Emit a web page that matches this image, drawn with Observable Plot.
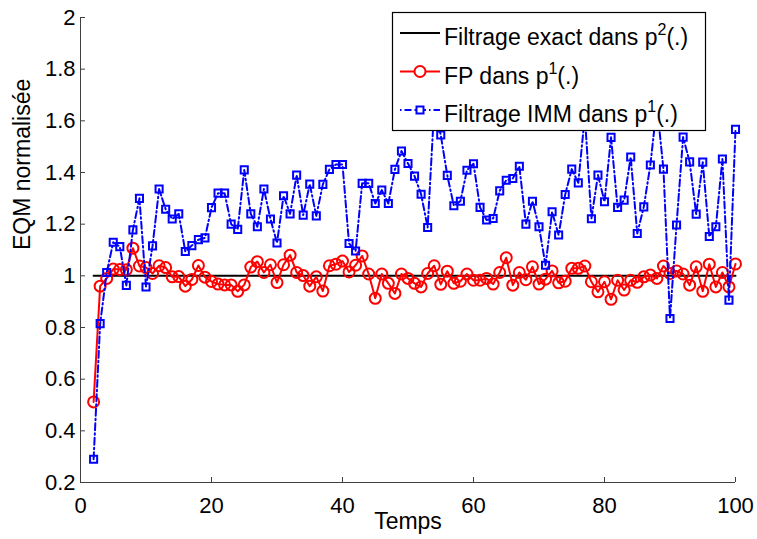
<!DOCTYPE html>
<html><head><meta charset="utf-8">
<script src="https://cdn.jsdelivr.net/npm/d3@7"></script>
<script src="https://cdn.jsdelivr.net/npm/@observablehq/plot@0.6"></script>
<style>body{margin:0;background:#fff} svg{display:block}</style>
</head><body><div id="chart"></div>
<script>
const temps = [2,3,4,5,6,7,8,9,10,11,12,13,14,15,16,17,18,19,20,21,22,23,24,25,26,27,28,29,30,31,32,33,34,35,36,37,38,39,40,41,42,43,44,45,46,47,48,49,50,51,52,53,54,55,56,57,58,59,60,61,62,63,64,65,66,67,68,69,70,71,72,73,74,75,76,77,78,79,80,81,82,83,84,85,86,87,88,89,90,91,92,93,94,95,96,97,98,99,100];

const fpValues = [0.512,0.96,0.99,1.026,1.025,1.024,1.107,1.038,1.032,1.009,1.039,1.032,0.996,0.997,0.96,0.986,1.04,0.995,0.978,0.968,0.965,0.965,0.94,0.965,1.034,1.055,1.013,1.043,0.974,1.043,1.08,1.013,1.001,0.96,0.996,0.941,1.039,1.045,1.057,1.015,1.041,1.077,1.007,0.913,1.007,0.971,0.932,1.007,0.99,0.971,0.957,1.009,1.039,0.967,1.018,0.971,0.979,1.007,0.983,0.983,0.99,0.968,1.013,1.07,0.964,1.013,0.985,1.035,0.968,0.987,1.019,0.973,0.979,1.029,1.029,1.038,0.977,0.938,0.977,0.909,0.983,0.945,0.983,0.975,0.996,1.003,0.99,1.038,1.009,1.019,1.007,0.964,1.035,0.94,1.045,0.957,1.013,0.957,1.046];

const immValues = [0.29,0.815,1.013,1.13,1.113,0.963,1.178,1.30,0.957,1.116,1.336,1.258,1.22,1.24,1.094,1.117,1.14,1.147,1.264,1.32,1.32,1.20,1.18,1.41,1.24,1.19,1.336,1.22,1.127,1.31,1.24,1.39,1.235,1.355,1.232,1.354,1.412,1.431,1.431,1.125,1.096,1.358,1.358,1.28,1.332,1.28,1.412,1.483,1.435,1.386,1.316,1.187,1.65,1.545,1.389,1.271,1.289,1.409,1.434,1.265,1.216,1.222,1.329,1.37,1.377,1.424,1.2,1.289,1.19,1.041,1.248,1.158,1.315,1.413,1.36,1.62,1.221,1.39,1.287,1.536,1.265,1.293,1.46,1.164,1.267,1.429,1.66,1.413,0.835,1.197,1.537,1.441,1.239,1.44,1.152,1.19,1.452,0.906,1.567];

const exactTemps = [2, 100];
const exactValues = [1, 1];

const xTicks = [0, 20, 40, 60, 80, 100];
const yTicks = [0.2, 0.4, 0.6, 0.8, 1, 1.2, 1.4, 1.6, 1.8, 2];

const legendLabels = [
  ["Filtrage exact dans p", "2", "(.)"],
  ["FP dans p", "1", "(.)"],
  ["Filtrage IMM dans p", "1", "(.)"]
];
const xLabel = "Temps";
const yLabel = "EQM normalisée";

const fpData = temps.map((t, i) => ({t, v: fpValues[i]}));
const immData = temps.map((t, i) => ({t, v: immValues[i]}));
const exactData = exactTemps.map((t, i) => ({t, v: exactValues[i]}));

const axisColor = "#404040";
const FONT = "'Liberation Sans', Arial, Helvetica, sans-serif";

const chart = Plot.plot({
  width: 757,
  height: 539,
  marginLeft: 80,
  marginRight: 22,
  marginTop: 17,
  marginBottom: 57,
  style: {fontFamily: FONT, fontSize: "22px", background: "#fff", color: "#000"},
  x: {domain: [0, 100]},
  y: {domain: [0.2, 2]},
  marks: [
    Plot.ruleY([0.2], {stroke: axisColor, strokeWidth: 1}),
    Plot.ruleX([0], {stroke: axisColor, strokeWidth: 1}),
    Plot.axisX({ticks: xTicks, tickSize: 5, dy: -5, text: null, stroke: axisColor, label: null}),
    Plot.axisY({ticks: yTicks, tickSize: 5, dx: 5, text: null, stroke: axisColor, label: null}),
    Plot.axisX({ticks: xTicks, tickSize: 0, tickPadding: 15, tickFormat: d => String(d), label: null, fontSize: 22}),
    Plot.axisY({ticks: yTicks, tickSize: 0, tickPadding: 5, tickFormat: d => String(+d.toFixed(1)), label: null, fontSize: 22}),
    Plot.line(exactData, {x: "t", y: "v", stroke: "#000", strokeWidth: 2}),
    Plot.line(fpData, {x: "t", y: "v", stroke: "#ff0000", strokeWidth: 2}),
    Plot.dot(fpData, {x: "t", y: "v", r: 5.5, stroke: "#ff0000", strokeWidth: 2, fill: "none"}),
    Plot.line(immData, {x: "t", y: "v", stroke: "#0000ff", strokeWidth: 2, strokeDasharray: "7,3,1.5,3"}),
    Plot.dot(immData, {x: "t", y: "v", symbol: "square", r: 4, stroke: "#0000ff", strokeWidth: 2, fill: "none"}),
    Plot.text([xLabel], {frameAnchor: "bottom", dy: 46, fontSize: 23, fill: "#000"}),
    Plot.text([yLabel], {frameAnchor: "left", dx: -58, rotate: -90, fontSize: 23, fill: "#000"})
  ]
});

document.getElementById("chart").appendChild(chart);

// Legend (MATLAB-style box, opaque)
const svg = d3.select(chart);
const lg = svg.append("g").attr("font-family", FONT).attr("font-size", 23).attr("text-anchor", "start");
lg.append("rect").attr("x", 392.5).attr("y", 12.5).attr("width", 313).attr("height", 118)
  .attr("fill", "#fff").attr("stroke", "#000").attr("stroke-width", 1.2);
const rowsY = [33, 71.5, 110];
lg.append("line").attr("x1", 400).attr("x2", 440).attr("y1", rowsY[0]).attr("y2", rowsY[0]).attr("stroke", "#000").attr("stroke-width", 2);
lg.append("line").attr("x1", 400).attr("x2", 440).attr("y1", rowsY[1]).attr("y2", rowsY[1]).attr("stroke", "#ff0000").attr("stroke-width", 2);
lg.append("circle").attr("cx", 420).attr("cy", rowsY[1]).attr("r", 5.5).attr("fill", "#fff").attr("stroke", "#ff0000").attr("stroke-width", 2);
lg.append("line").attr("x1", 400).attr("x2", 440).attr("y1", rowsY[2]).attr("y2", rowsY[2]).attr("stroke", "#0000ff").attr("stroke-width", 2).attr("stroke-dasharray", "1.5,3,7,3");
lg.append("rect").attr("x", 416.5).attr("y", rowsY[2] - 3.5).attr("width", 7).attr("height", 7).attr("fill", "#fff").attr("stroke", "#0000ff").attr("stroke-width", 2);
legendLabels.forEach((parts, i) => {
  const t = lg.append("text").attr("x", 444).attr("y", rowsY[i] + 12).attr("fill", "#000");
  t.append("tspan").text(parts[0]);
  t.append("tspan").attr("dy", -10).attr("font-size", 16).text(parts[1]);
  t.append("tspan").attr("dy", 10).text(parts[2]);
});
</script>
</body></html>
